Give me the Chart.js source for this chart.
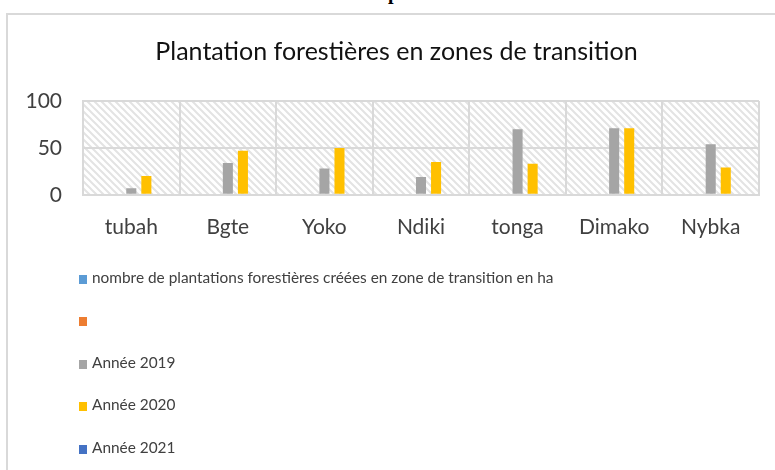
<!DOCTYPE html>
<html>
<head>
<meta charset="utf-8">
<script src="https://cdn.jsdelivr.net/npm/chart.js@4"></script>
<style>
  html, body { margin: 0; padding: 0; background: #fff; }
  body { width: 775px; height: 470px; position: relative; overflow: hidden; font-family: Lato, sans-serif; }
  #frame { position: absolute; left: 6px; top: 13px; width: 800px; height: 480px;
           border-left: 2px solid #d9d9d9; border-top: 2px solid #d9d9d9; }
  #head { position: absolute; left: 388px; top: -19px; font: bold 20px "Liberation Serif", serif; color: #000; }
  #wrap { position: absolute; left: 0; top: 0; width: 775px; height: 265px; }
  #legend { position: absolute; left: 79px; top: 256px; color: #404040; font-size: 15.4px; }
  #legend div { height: 42.4px; line-height: 42.4px; white-space: nowrap; }
  #legend span.box { display: inline-block; width: 8px; height: 9px; margin-right: 5px; vertical-align: -1px; }
</style>
</head>
<body>
<div id="head">p</div>
<div id="frame"></div>
<div id="wrap"><canvas id="chart" width="775" height="265"></canvas></div>
<div id="legend"></div>
<script>
    // données
    var categories = ['tubah', 'Bgte', 'Yoko', 'Ndiki', 'tonga', 'Dimako', 'Nybka'];
    var seriesLabels = ['nombre de plantations forestières créées en zone de transition en ha', '', 'Année 2019', 'Année 2020', 'Année 2021'];
    var nombrePlantations = [];
    var serieVide = [];
    var annee2019 = [7, 34, 28, 19, 70, 71, 54];
    var annee2020 = [20, 47, 50, 35, 33, 71, 29];
    var annee2021 = [];
    var yTicks = [0, 50, 100];

    var myColors = ['#5B9BD5', '#ED7D31', '#A5A5A5', '#FFC000', '#4472C4'];
    var seriesData = [nombrePlantations, serieVide, annee2019, annee2020, annee2021];

    // fond hachuré de la zone de traçage
    var hatch = {
        id: 'hatch',
        afterLayout: function (chart) {
            // le titre est centré sur le cadre, un peu à droite
            chart.titleBlock.left += 7;
            chart.titleBlock.right += 7;
        },
        beforeDraw: function (chart) {
            var a = chart.chartArea;
            var ctx = chart.ctx;
            var p = document.createElement('canvas');
            p.width = 7; p.height = 7;
            var pc = p.getContext('2d');
            pc.strokeStyle = '#e3e3e3';
            pc.lineWidth = 2;
            pc.beginPath();
            pc.moveTo(-1, -1); pc.lineTo(8, 8);
            pc.moveTo(-1, 6); pc.lineTo(1, 8);
            pc.moveTo(6, -1); pc.lineTo(8, 1);
            pc.stroke();
            ctx.save();
            ctx.fillStyle = ctx.createPattern(p, 'repeat');
            ctx.fillRect(a.left, a.top, a.right - a.left, a.bottom - a.top);
            ctx.restore();
        }
    };

    var data = {
        labels: categories,
        datasets: seriesLabels.map(function (lab, i) {
            return {
                label: lab,
                data: seriesData[i],
                backgroundColor: myColors[i],
                barPercentage: 0.667,
                categoryPercentage: 0.78
            };
        })
    };

    var canvas = document.getElementById('chart');
    var myNewChart = new Chart(canvas.getContext('2d'), {
        type: 'bar',
        data: data,
        plugins: [hatch],
        options: {
            responsive: false,
            animation: false,
            layout: { padding: { left: 20, right: 16, top: 0, bottom: 5 } },
            plugins: {
                legend: { display: false },
                tooltip: { enabled: false },
                title: {
                    display: true,
                    text: 'Plantation forestières en zones de transition',
                    color: '#111',
                    font: { family: 'Lato', size: 25, weight: 'normal' },
                    padding: { top: 37, bottom: 34 }
                }
            },
            scales: {
                x: {
                    grid: { color: '#d9d9d9', lineWidth: 2, drawTicks: false, offset: true },
                    border: { color: '#d9d9d9', width: 2 },
                    ticks: { color: '#404040', font: { family: 'Lato', size: 21 }, padding: 20, maxRotation: 0 }
                },
                y: {
                    min: 0,
                    max: 100,
                    afterFit: function (s) { s.width = 63; },
                    afterBuildTicks: function (s) { s.ticks = yTicks.map(function (v) { return { value: v }; }); },
                    grid: { color: '#d9d9d9', lineWidth: 2, drawTicks: false },
                    border: { color: '#d9d9d9', width: 2 },
                    ticks: { color: '#404040', font: { family: 'Lato', size: 21 }, padding: 21 }
                }
            }
        }
    });

    // légende verticale sous le graphique
    var legend = document.getElementById('legend');
    seriesLabels.forEach(function (lab, i) {
        var row = document.createElement('div');
        var box = document.createElement('span');
        box.className = 'box';
        box.style.background = myColors[i];
        row.appendChild(box);
        row.appendChild(document.createTextNode(lab));
        legend.appendChild(row);
    });
</script>
</body>
</html>
